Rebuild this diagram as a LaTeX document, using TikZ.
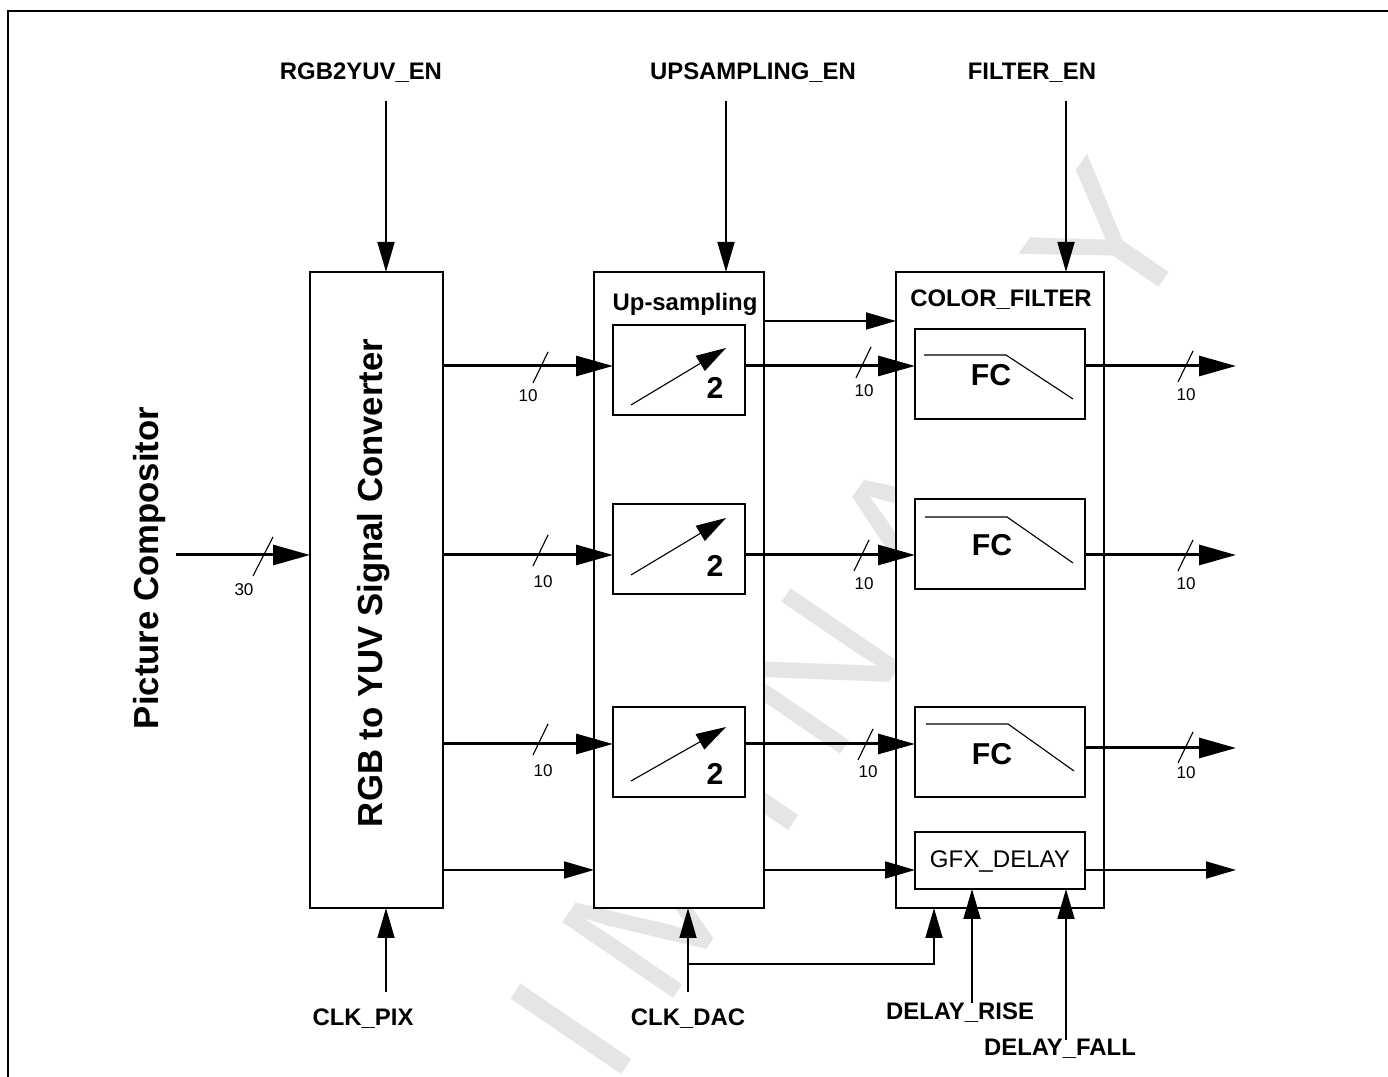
\documentclass[tikz,border=0pt]{standalone}
\usepackage{fontspec}
\setmainfont{Liberation Sans}
\newfontfamily\markfont[LetterSpace=20.2]{Liberation Sans}
\usepackage{xcolor}
\usetikzlibrary{arrows.meta,calc,positioning}
\tikzset{
  block/.style={draw, line width=0.57pt, fill=white, inner sep=0pt, outer sep=0pt, align=center},
  subblock/.style={block, minimum width=1.32cm, minimum height=0.9cm},
  fcblock/.style={block, minimum width=1.70cm, minimum height=0.9cm},
  pinlabel/.style={font=\fontsize{6.8}{8}\selectfont\bfseries, inner sep=0pt},
  biglabel/.style={font=\fontsize{9.88}{12}\selectfont\bfseries, inner sep=0pt, rotate=90},
  gainlabel/.style={font=\fontsize{8.6}{10}\selectfont\bfseries, inner sep=0pt},
  widthlabel/.style={font=\fontsize{4.85}{6}\selectfont, inner sep=0pt},
  signal/.style={-{Triangle[length=3mm,width=1.7mm]}, line width=0.5pt},
  bus/.style={-{Triangle[length=3.7mm,width=2mm]}, line width=0.85pt},
  busmark/.style={line width=0.32pt},
  pointer/.style={-{Triangle[length=3mm,width=1.75mm]}, line width=0.32pt},
  rolloff/.style={line width=0.32pt}
}
\begin{document}
\begin{tikzpicture}[x=1cm,y=1cm]
  \useasboundingbox (0,0) rectangle (13.88,10.77);
  \node[rotate=55.7, text=black!10, font=\markfont\fontsize{55.5}{60}\selectfont, inner sep=0pt] (mark) at (6.63,1.82) {PRELIMINARY};
  \draw[line width=0.7pt] (0.08,0) -- (0.08,10.66) -- (13.88,10.66);

  % main blocks
  \node[block, minimum width=1.33cm, minimum height=6.36cm] (rgb) at (3.765,4.87) {};
  \node[block, minimum width=1.70cm, minimum height=6.36cm] (up) at (6.79,4.87) {};
  \node[block, minimum width=2.08cm, minimum height=6.36cm] (cf) at (10.00,4.87) {};
  \node[biglabel] (rgblabel) at (3.74,4.94) {RGB to YUV Signal Converter};
  \node[biglabel] (source) at (1.495,5.09) {Picture Compositor};
  \node[pinlabel] (uptitle) at (6.85,7.73) {Up-sampling};
  \node[pinlabel] (cftitle) at (10.01,7.77) {COLOR\_FILTER};

  \node[subblock] (usa) at (6.79,7.07) {};
  \node[subblock] (usb) at (6.79,5.28) {};
  \node[subblock] (usc) at (6.79,3.25) {};
  \node[fcblock] (fca) at (10.00,7.03) {};
  \node[fcblock] (fcb) at (10.00,5.33) {};
  \node[fcblock] (fcc) at (10.00,3.25) {};
  \node[block, minimum width=1.70cm, minimum height=0.57cm, font=\fontsize{6.85}{8}\selectfont, text depth=0.6pt] (gfx) at (10.00,2.165) {GFX\_DELAY};

  \node[gainlabel] (twoa) at (7.15,6.89) {2};
  \node[gainlabel] (twob) at (7.15,5.11) {2};
  \node[gainlabel] (twoc) at (7.15,3.03) {2};
  \node[gainlabel] (fclabela) at (9.91,7.02) {FC};
  \node[gainlabel] (fclabelb) at (9.92,5.32) {FC};
  \node[gainlabel] (fclabelc) at (9.92,3.23) {FC};

  \draw[pointer] (6.31,6.72) -- (7.26,7.29);
  \draw[pointer] (6.31,5.02) -- (7.26,5.59);
  \draw[pointer] (6.31,2.96) -- (7.26,3.50);
  \draw[rolloff] (9.24,7.22) -- (10.06,7.22) -- (10.73,6.78);
  \draw[rolloff] (9.25,5.60) -- (10.07,5.60) -- (10.73,5.14);
  \draw[rolloff] (9.26,3.53) -- (10.08,3.53) -- (10.74,3.06);

  % rows
  \coordinate (rowctl) at (0,7.56);
  \coordinate (rowa) at (0,7.11);
  \coordinate (rowb) at (0,5.22);
  \coordinate (rowc) at (0,3.33);
  \coordinate (rowd) at (0,2.07);
  \coordinate (srcend) at (1.76,5.22);
  \coordinate (outa) at (12.36,7.11);
  \coordinate (outb) at (12.36,5.22);
  \coordinate (outc) at (12.36,3.29);
  \coordinate (outd) at (12.36,2.07);

  \draw[bus] (srcend) -- (rgb.west |- srcend);
  \draw[bus] (rgb.east |- rowa) -- (usa.west |- rowa);
  \draw[bus] (rgb.east |- rowb) -- (usb.west |- rowb);
  \draw[bus] (rgb.east |- rowc) -- (usc.west |- rowc);
  \draw[signal] (rgb.east |- rowd) -- (up.west |- rowd);
  \draw[signal] (up.east |- rowctl) -- (cf.west |- rowctl);
  \draw[bus] (usa.east |- rowa) -- (fca.west |- rowa);
  \draw[bus] (usb.east |- rowb) -- (fcb.west |- rowb);
  \draw[bus] (usc.east |- rowc) -- (fcc.west |- rowc);
  \draw[signal] (up.east |- rowd) -- (gfx.west |- rowd);
  \draw[bus] (fca.east |- outa) -- (outa);
  \draw[bus] (fcb.east |- outb) -- (outb);
  \draw[bus] (fcc.east |- outc) -- (outc);
  \draw[signal] (gfx.east |- outd) -- (outd);

  % bus width marks
  \draw[busmark] (2.53,5.01) -- (2.73,5.40);
  \node[widthlabel] (widsrc) at (2.44,4.87) {30};
  \foreach \i/\x/\y/\lx/\ly in {1/5.33/6.94/5.28/6.81, 2/5.33/5.11/5.43/4.95, 3/5.33/3.22/5.43/3.06,
    4/8.56/6.99/8.64/6.86, 5/8.54/5.06/8.64/4.93, 6/8.58/3.17/8.68/3.05,
    7/11.78/6.95/11.86/6.82, 8/11.78/5.06/11.86/4.93, 9/11.78/3.14/11.86/3.04}
    {\draw[busmark] (\x,\y) -- +(0.15,0.31);
     \node[widthlabel] (wid\i) at (\lx,\ly) {10};}

  % control pins
  \node[pinlabel] (rgben) at (3.61,10.04) {RGB2YUV\_EN};
  \node[pinlabel] (upen) at (7.53,10.04) {UPSAMPLING\_EN};
  \node[pinlabel] (filteren) at (10.32,10.04) {FILTER\_EN};
  \node[pinlabel] (clkpix) at (3.63,0.58) {CLK\_PIX};
  \node[pinlabel] (clkdac) at (6.88,0.58) {CLK\_DAC};
  \node[pinlabel] (rise) at (9.60,0.64) {DELAY\_RISE};
  \node[pinlabel] (fall) at (10.60,0.28) {DELAY\_FALL};

  \coordinate (rgbpin) at (3.86,9.76);
  \coordinate (uppin) at (7.26,9.76);
  \coordinate (filterpin) at (10.66,9.76);
  \coordinate (pixpin) at (3.86,0.85);
  \coordinate (dacpin) at (6.88,0.85);
  \coordinate (dacturn) at (6.88,1.13);
  \coordinate (dacup) at (9.34,1.13);
  \coordinate (risepin) at (9.72,0.74);
  \coordinate (fallpin) at (10.66,0.37);

  \draw[signal] (rgbpin) -- (rgbpin |- rgb.north);
  \draw[signal] (uppin) -- (uppin |- up.north);
  \draw[signal] (filterpin) -- (filterpin |- cf.north);
  \draw[signal] (pixpin) -- (pixpin |- rgb.south);
  \draw[signal] (dacpin) -- (dacpin |- up.south);
  \draw[signal] (dacturn) -- (dacup) -- (dacup |- cf.south);
  \draw[signal] (risepin) -- (risepin |- gfx.south);
  \draw[signal] (fallpin) -- (fallpin |- gfx.south);
\end{tikzpicture}
\end{document}
